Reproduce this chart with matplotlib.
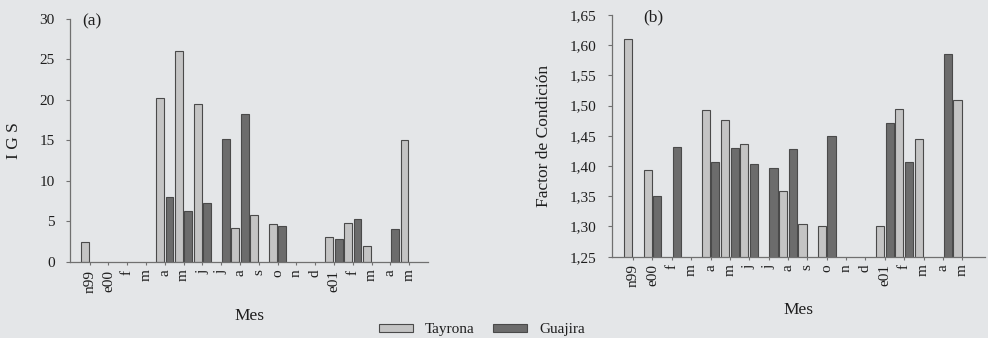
import numpy as np
import matplotlib
matplotlib.use("Agg")
import matplotlib.pyplot as plt
from matplotlib.patches import Patch
from matplotlib.ticker import FuncFormatter

plt.rcParams['font.family'] = ['Liberation Serif', 'DejaVu Serif']

# --- data (nan = no bar) ---
nan = np.nan
meses = ['n99', 'e00', 'f', 'm', 'a', 'm', 'j', 'j', 'a', 's',
         'o', 'n', 'd', 'e01', 'f', 'm', 'a', 'm']

igs_tayrona = [2.5, nan, nan, nan, 20.2, 26.0, 19.5, nan, 4.2, 5.8,
               4.7, nan, nan, 3.1, 4.8, 2.0, nan, 15.1]
igs_guajira = [nan, nan, nan, nan, 8.0, 6.3, 7.3, 15.2, 18.3, nan,
               4.5, nan, nan, 2.8, 5.3, nan, 4.1, nan]

fc_tayrona = [1.61, 1.393, nan, nan, 1.493, 1.477, 1.437, nan, 1.358, 1.304,
              1.301, nan, nan, 1.301, 1.494, 1.445, nan, 1.509]
fc_guajira = [nan, 1.350, 1.432, nan, 1.406, 1.430, 1.404, 1.396, 1.428, nan,
              1.450, nan, nan, 1.472, 1.407, nan, 1.585, nan]

# --- style ---
BG = '#e4e6e8'
C_TAY = '#c4c4c4'
C_GUA = '#6c6c6c'
EDGE = '#4a4a4a'
TXT = '#1e1e1e'
AX = '#707070'

fig = plt.figure(figsize=(9.88, 3.38), dpi=100, facecolor=BG)
ax_a = fig.add_axes([0.0709, 0.2249, 0.3623, 0.719])
ax_b = fig.add_axes([0.6194, 0.2405, 0.3775, 0.7151])

x = np.arange(len(meses))
w = 0.42
off = 0.25


def style_axes(ax):
    ax.set_facecolor('none')
    for s in ['top', 'right']:
        ax.spines[s].set_visible(False)
    for s in ['left', 'bottom']:
        ax.spines[s].set_color(AX)
        ax.spines[s].set_linewidth(0.9)
    ax.set_xticks(x)
    ax.set_xticklabels(meses, rotation=90, fontsize=11, color=TXT)
    ax.tick_params(axis='x', length=2.5, width=0.8, color=AX, pad=3)
    ax.tick_params(axis='y', length=3, width=0.8, color=AX, pad=8,
                   labelsize=11, labelcolor=TXT)


# --- panel (a): IGS ---
ax_a.bar(x - off, igs_tayrona, w, color=C_TAY, edgecolor=EDGE, linewidth=0.8)
ax_a.bar(x + off, igs_guajira, w, color=C_GUA, edgecolor=EDGE, linewidth=0.8)
style_axes(ax_a)
ax_a.set_xlim(-1.04, 18.0)
ax_a.set_ylim(0, 30)
ax_a.set_yticks(np.arange(0, 31, 5))
ax_a.set_ylabel('I G S', fontsize=12.5, color=TXT)
ax_a.yaxis.set_label_coords(-0.134, 0.5)
ax_a.set_xlabel('Mes', fontsize=12.5, color=TXT)
ax_a.xaxis.set_label_coords(0.5, -0.189)
ax_a.text(0.034, 0.99, '(a)', transform=ax_a.transAxes, fontsize=12.5,
          color=TXT, va='center', ha='left')

# --- panel (b): factor de condicion ---
ax_b.bar(x - off, fc_tayrona, w, color=C_TAY, edgecolor=EDGE, linewidth=0.8)
ax_b.bar(x + off, fc_guajira, w, color=C_GUA, edgecolor=EDGE, linewidth=0.8)
style_axes(ax_b)
ax_b.set_xlim(-1.09, 18.17)
ax_b.set_ylim(1.25, 1.65)
ax_b.set_yticks(np.arange(1.25, 1.651, 0.05))
ax_b.yaxis.set_major_formatter(FuncFormatter(lambda v, p: f'{v:.2f}'.replace('.', ',')))
ax_b.set_ylabel('Factor de Condición', fontsize=12.5, color=TXT)
ax_b.yaxis.set_label_coords(-0.161, 0.5)
ax_b.set_xlabel('Mes', fontsize=12.5, color=TXT)
ax_b.xaxis.set_label_coords(0.5, -0.187)
ax_b.text(0.083, 0.99, '(b)', transform=ax_b.transAxes, fontsize=12.5,
          color=TXT, va='center', ha='left')

# --- shared legend at the bottom ---
handles = [Patch(facecolor=C_TAY, edgecolor=EDGE, linewidth=0.8, label='Tayrona'),
           Patch(facecolor=C_GUA, edgecolor=EDGE, linewidth=0.8, label='Guajira')]
leg = fig.legend(handles=handles, loc='center', bbox_to_anchor=(0.488, 0.024),
                 ncol=2, frameon=False, fontsize=11, handlelength=2.2,
                 handleheight=0.4, handletextpad=0.8, columnspacing=1.2)
for t in leg.get_texts():
    t.set_color(TXT)

fig.savefig('out.png', dpi=100, facecolor=BG)
